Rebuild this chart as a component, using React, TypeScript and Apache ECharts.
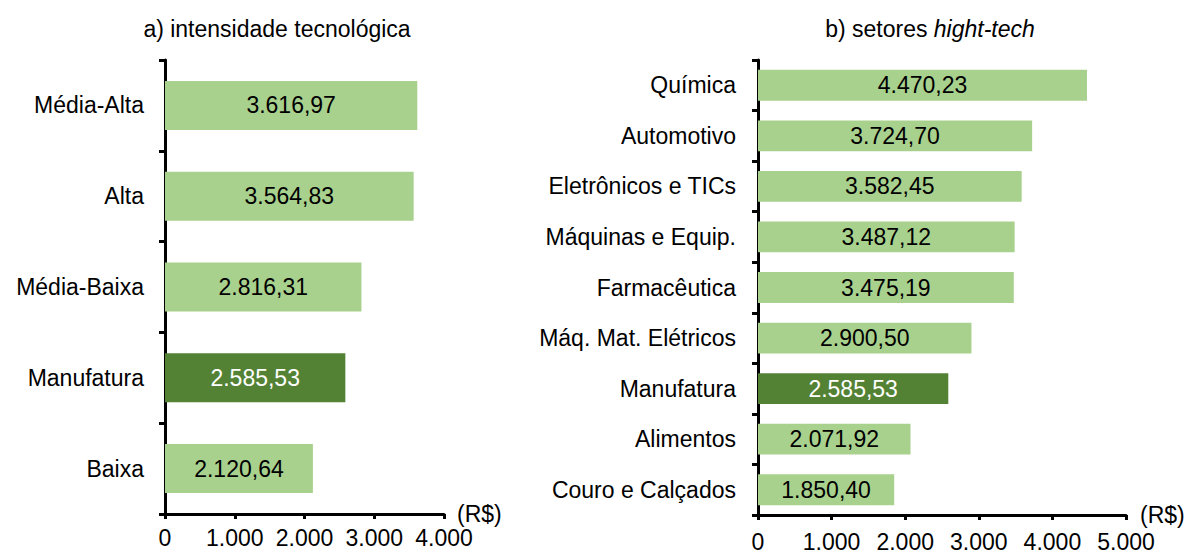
import React, { useEffect, useRef } from "react";
import * as echarts from "echarts";

const leftCategories = ["Média-Alta", "Alta", "Média-Baixa", "Manufatura", "Baixa"];
const leftValues = [3616.97, 3564.83, 2816.31, 2585.53, 2120.64];
const rightCategories = [
  "Química",
  "Automotivo",
  "Eletrônicos e TICs",
  "Máquinas e Equip.",
  "Farmacêutica",
  "Máq. Mat. Elétricos",
  "Manufatura",
  "Alimentos",
  "Couro e Calçados",
];
const rightValues = [4470.23, 3724.7, 3582.45, 3487.12, 3475.19, 2900.5, 2585.53, 2071.92, 1850.4];
const highlightCategory = "Manufatura";
const leftMax = 4000;
const rightMax = 5000;
const tickStep = 1000;
const unitLabel = "(R$)";
const titleLeft = "a) intensidade tecnológica";
const titleRightPrefix = "b) setores ";
const titleRightItalic = "hight-tech";

const LIGHT = "#A9D18E";
const DARK = "#548235";
const FONT = "'Liberation Sans', Arial, Helvetica, sans-serif";
const FS = 23;

function fmt(v: number, decimals: number): string {
  const fixed = v.toFixed(decimals);
  const [intPart, dec] = fixed.split(".");
  const withSep = intPart.replace(/\B(?=(\d{3})+(?!\d))/g, ".");
  return dec ? withSep + "," + dec : withSep;
}

function makeData(cats: string[], vals: number[]) {
  return vals.map((v, i) => {
    const hi = cats[i] === highlightCategory;
    return {
      value: v,
      itemStyle: { color: hi ? DARK : LIGHT },
      label: { color: hi ? "#FFFFFF" : "#000000" },
    };
  });
}

export default function App() {
  const ref = useRef<HTMLDivElement>(null);
  useEffect(() => {
    if (!ref.current) return;
    const chart = echarts.init(ref.current, undefined, { renderer: "svg" });
    const axisLineStyle = { color: "#000", width: 3 };
    const xAxisCommon = (max: number, margin: number, nameGap: number, namePad: number[]) => ({
      type: "value" as const,
      min: 0,
      max,
      interval: tickStep,
      name: unitLabel,
      nameLocation: "end" as const,
      nameGap,
      nameTextStyle: { fontSize: FS, color: "#000", fontFamily: FONT, padding: namePad },
      axisLine: { show: true, lineStyle: axisLineStyle },
      axisTick: { show: true, length: 5, lineStyle: { color: "#000", width: 3 } },
      splitLine: { show: false },
      axisLabel: {
        fontSize: FS,
        color: "#000",
        fontFamily: FONT,
        margin,
        formatter: (v: number) => fmt(v, 0),
      },
    });
    const yAxisCommon = (cats: string[], margin: number) => ({
      type: "category" as const,
      data: cats,
      inverse: true,
      axisLine: { show: true, lineStyle: axisLineStyle },
      axisTick: { show: true, length: 6, lineStyle: { color: "#000", width: 3 } },
      axisLabel: { fontSize: FS, color: "#000", fontFamily: FONT, margin },
    });
    chart.setOption({
      animation: false,
      backgroundColor: "#FFFFFF",
      textStyle: { fontFamily: FONT },
      title: [
        {
          text: titleLeft,
          left: 272,
          top: 12,
          textAlign: "center",
          textStyle: { fontSize: FS, fontWeight: "normal", color: "#000", fontFamily: FONT },
        },
        {
          text: titleRightPrefix + "{i|" + titleRightItalic + "}",
          left: 925,
          top: 12,
          textAlign: "center",
          textStyle: {
            fontSize: FS,
            fontWeight: "normal",
            color: "#000",
            fontFamily: FONT,
            rich: {
              i: { fontStyle: "italic", fontSize: FS, color: "#000", fontFamily: FONT },
            },
          },
        },
      ],
      grid: [
        { left: 165, top: 60, width: 279, height: 454, outerBoundsMode: "none", containLabel: false },
        { left: 758, top: 60, width: 368, height: 455, outerBoundsMode: "none", containLabel: false },
      ],
      xAxis: [
        { ...xAxisCommon(leftMax, 12, 13, [12, 0, 0, 0]), gridIndex: 0 },
        { ...xAxisCommon(rightMax, 15, 14, [0, 0, 4, 0]), gridIndex: 1 },
      ],
      yAxis: [
        { ...yAxisCommon(leftCategories, 21), gridIndex: 0 },
        { ...yAxisCommon(rightCategories, 22), gridIndex: 1 },
      ],
      series: [
        {
          type: "bar",
          xAxisIndex: 0,
          yAxisIndex: 0,
          barCategoryGap: "46%",
          data: makeData(leftCategories, leftValues),
          label: {
            show: true,
            position: "inside",
            fontSize: FS,
            fontFamily: FONT,
            formatter: (p: any) => fmt(p.value, 2),
          },
        },
        {
          type: "bar",
          xAxisIndex: 1,
          yAxisIndex: 1,
          barCategoryGap: "39%",
          data: makeData(rightCategories, rightValues),
          label: {
            show: true,
            position: "inside",
            fontSize: FS,
            fontFamily: FONT,
            formatter: (p: any) => fmt(p.value, 2),
          },
        },
      ],
    });
    return () => chart.dispose();
  }, []);
  return (
    <div
      ref={ref}
      style={{ position: "fixed", left: 0, top: 0, width: 1186, height: 551, background: "#fff" }}
    />
  );
}
